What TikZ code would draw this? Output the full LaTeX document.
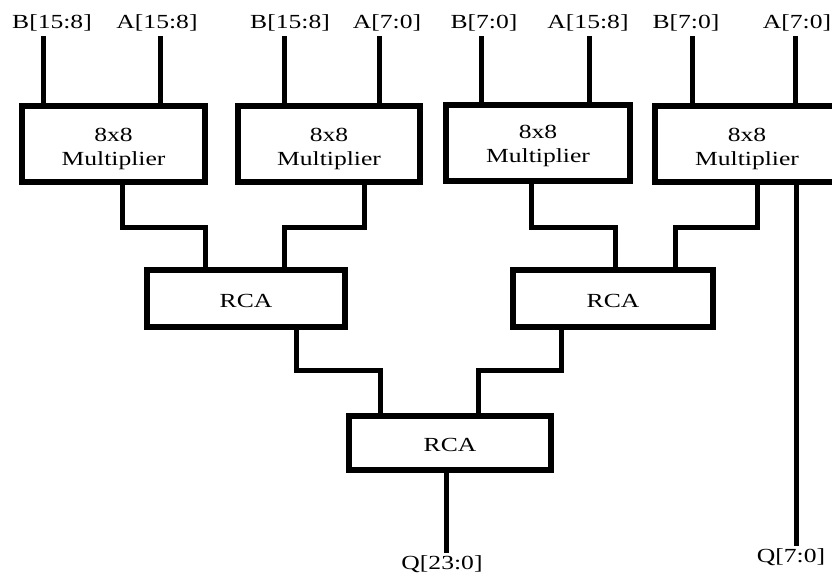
\documentclass[tikz,border=0pt]{standalone}
\usepackage{fontspec}
\setmainfont[FakeStretch=1.28]{Liberation Serif}
\begin{document}
\begin{tikzpicture}[x=1pt,y=-1pt,
  txt/.style={font=\fontsize{20}{24}\selectfont},
  mult/.style={txt,draw,line width=6pt,minimum width=183pt,minimum height=76pt,inner sep=0pt,align=center},
  rca/.style={txt,draw,line width=6pt,minimum height=57pt,inner sep=0pt},
  lbl/.style={txt,inner sep=0pt},
  wire/.style={line width=5pt}]
\clip (0,0) rectangle (832,576);
\fill[white] (0,0) rectangle (832,576);
% multipliers
\node[mult] (m1) at (113.5,144) {\rule{0pt}{24pt}8x8\\Multiplier};
\node[mult,minimum width=182pt] (m2) at (329,144) {\rule{0pt}{24pt}8x8\\Multiplier};
\node[mult,minimum width=184pt] (m3) at (538,143) {\rule{0pt}{20pt}8x8\\Multiplier};
\node[mult,minimum width=184pt] (m4) at (747,144) {\rule{0pt}{24pt}8x8\\Multiplier};
% adders
\node[rca,minimum width=198pt] (r1) at (246,298.5) {\rule{0pt}{18pt}RCA};
\node[rca,minimum width=200pt] (r2) at (613,298.5) {\rule{0pt}{18pt}RCA};
\node[rca,minimum width=202pt,minimum height=54pt] (r3) at (450,443) {\rule{0pt}{18pt}RCA};
% input labels
\node[lbl] (l1) at (52,23) {B[15:8]};
\node[lbl] (l2) at (157,23) {A[15:8]};
\node[lbl] (l3) at (290,23) {B[15:8]};
\node[lbl] (l4) at (387,23) {A[7:0]};
\node[lbl] (l5) at (484,23) {B[7:0]};
\node[lbl] (l6) at (588,23) {A[15:8]};
\node[lbl] (l7) at (686,23) {B[7:0]};
\node[lbl] (l8) at (797,23) {A[7:0]};
% output labels
\node[lbl,inner sep=2pt] (q1) at (442,564) {Q[23:0]};
\node[lbl,inner sep=2pt] (q2) at (791,557) {Q[7:0]};
% helper levels
\coordinate (top) at (0,36);
\coordinate (ya) at (0,227);
\coordinate (yb) at (0,370);
% input wires
\foreach \m/\dx in {m1/-70.5,m1/46.5,m2/-45,m2/50,m3/-57,m3/51,m4/-55,m4/48}{
  \draw[wire] ([xshift=\dx pt]\m.north) -- ([xshift=\dx pt]\m.north |- top);
}
% multiplier outputs to adders
\draw[wire] ([xshift=8.5pt]m1.south) -- ([xshift=8.5pt]m1.south |- ya) -| ([xshift=-41pt]r1.north);
\draw[wire] ([xshift=35pt]m2.south) -- ([xshift=35pt]m2.south |- ya) -| ([xshift=38pt]r1.north);
\draw[wire] ([xshift=-7pt]m3.south) -- ([xshift=-7pt]m3.south |- ya) -| ([xshift=2pt]r2.north);
\draw[wire] ([xshift=10pt]m4.south) -- ([xshift=10pt]m4.south |- ya) -| ([xshift=62pt]r2.north);
% adders to final adder
\draw[wire] ([xshift=50pt]r1.south) -- ([xshift=50pt]r1.south |- yb) -| ([xshift=-70pt]r3.north);
\draw[wire] ([xshift=-52pt]r2.south) -- ([xshift=-52pt]r2.south |- yb) -| ([xshift=28pt]r3.north);
% outputs
\draw[wire] ([xshift=-4pt]r3.south) -- ([xshift=-4pt]r3.south |- q1.north);
\draw[wire] ([xshift=49pt]m4.south) -- ([xshift=49pt]m4.south |- q2.north);
\end{tikzpicture}
\end{document}
